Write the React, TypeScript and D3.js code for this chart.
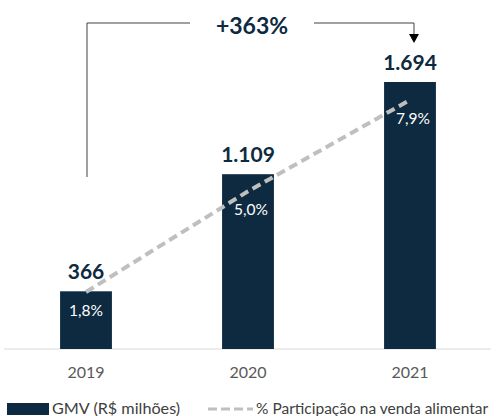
import React from "react";
import * as d3 from "d3";

const years = ["2019", "2020", "2021"];
const gmv = [366, 1109, 1694];
const gmvLabels = ["366", "1.109", "1.694"];
const share = [1.8, 5.0, 7.9];
const shareLabels = ["1,8%", "5,0%", "7,9%"];
const growthLabel = "+363%";
const legendBar = "GMV (R$ milhões)";
const legendLine = "% Participação na venda alimentar";

const W = 504;
const H = 416;
const NAVY = "#0d2a40";
const FONT = "Lato, 'Open Sans', sans-serif";

export default function App() {
  const x = d3.scaleBand<string>().domain(years).range([5, 491]).paddingInner(0.68).paddingOuter(0.34);
  const baseY = 349;
  const y = d3.scaleLinear().domain([0, 1694]).range([baseY, 82]);
  const yp = d3.scaleLinear().domain([1.8, 7.9]).range([292, 100]);
  const cx = (d: string) => (x(d) as number) + x.bandwidth() / 2;
  const line = d3
    .line<number>()
    .x((_, i) => cx(years[i]))
    .y((d) => yp(d));

  const leftX = cx(years[0]) + 1;
  const rightX = cx(years[2]) + 4;
  const topY = 23;

  return (
    <svg width={W} height={H} style={{ position: "absolute", left: 0, top: 0 }} fontFamily={FONT}>
      <rect width={W} height={H} fill="#fff" />
      <line x1={4} x2={491} y1={baseY} y2={baseY} stroke="#d9d9d9" strokeWidth={1} />
      {years.map((yr, i) => (
        <g key={yr}>
          <rect x={x(yr)} y={y(gmv[i])} width={x.bandwidth()} height={baseY - y(gmv[i])} fill={NAVY} />
          <text x={cx(yr)} y={y(gmv[i]) - 12} textAnchor="middle" fontSize={21} fontWeight={700} fill={NAVY}>
            {gmvLabels[i]}
          </text>
          <text x={cx(yr)} y={378} textAnchor="middle" fontSize={16} fill="#595959">
            {yr}
          </text>
        </g>
      ))}
      <path d={line(share) as string} fill="none" stroke="#bfbfbf" strokeWidth={4} strokeDasharray="9 5" />
      {years.map((yr, i) => (
        <text key={yr} x={cx(yr) + (i === 0 ? 0 : 3)} y={yp(share[i]) + 24} textAnchor="middle" fontSize={15.5} fill="#fff">
          {shareLabels[i]}
        </text>
      ))}
      <path
        d={`M${leftX},177 V${topY} H190 M314,${topY} H${rightX} V34`}
        fill="none"
        stroke="#404040"
        strokeWidth={1}
      />
      <path d={`M${rightX - 5},34 L${rightX + 5},34 L${rightX},43 Z`} fill="#000" />
      <text x={252} y={34} textAnchor="middle" fontSize={23} fontWeight={700} fill={NAVY}>
        {growthLabel}
      </text>
      <rect x={7} y={403} width={42} height={12} fill={NAVY} />
      <text x={52} y={414} fontSize={16.2} fill="#404040">
        {legendBar}
      </text>
      <line x1={208} x2={253} y1={409} y2={409} stroke="#bfbfbf" strokeWidth={3} strokeDasharray="9 4" />
      <text x={256} y={414} fontSize={15.5} fill="#404040">
        {legendLine}
      </text>
    </svg>
  );
}
